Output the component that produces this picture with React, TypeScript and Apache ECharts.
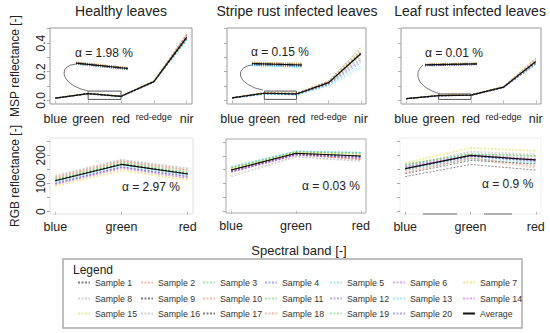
import React, { useEffect, useRef } from "react";
import * as echarts from "echarts";

const BANDS_MSP = ["blue", "green", "red", "red-edge", "nir"];
const BANDS_RGB = ["blue", "green", "red"];
const MSP_TICKS = [0, 0.1, 0.2, 0.3, 0.4, 0.5];
const MSP_LABELS = [0, 0.2, 0.4];
const RGB_TICKS = [0, 50, 100, 150, 200, 250];
const RGB_LABELS = [0, 100, 200];

const TITLES = ["Healthy leaves", "Stripe rust infected leaves", "Leaf rust infected leaves"];
const ALPHA_MSP = ["α = 1.98 %", "α = 0.15 %", "α = 0.01 %"];
const ALPHA_RGB = ["α = 2.97 %", "α = 0.03 %", "α = 0.9 %"];

// MSP reflectance: blue, green, red, red-edge, nir
const mspHealthy = [
  [0.016, 0.048, 0.029, 0.131, 0.435], [0.015, 0.046, 0.027, 0.128, 0.452],
  [0.017, 0.049, 0.030, 0.134, 0.441], [0.014, 0.045, 0.026, 0.127, 0.428],
  [0.016, 0.047, 0.028, 0.130, 0.419], [0.015, 0.050, 0.031, 0.136, 0.463],
  [0.018, 0.051, 0.032, 0.138, 0.470], [0.014, 0.044, 0.025, 0.125, 0.447],
  [0.016, 0.048, 0.029, 0.132, 0.432], [0.015, 0.049, 0.030, 0.133, 0.458],
  [0.017, 0.047, 0.028, 0.129, 0.425], [0.015, 0.046, 0.027, 0.127, 0.438],
  [0.016, 0.048, 0.029, 0.131, 0.421], [0.014, 0.050, 0.030, 0.135, 0.455],
  [0.017, 0.051, 0.031, 0.137, 0.466], [0.015, 0.045, 0.026, 0.126, 0.444],
  [0.016, 0.047, 0.028, 0.130, 0.430], [0.015, 0.049, 0.030, 0.134, 0.461],
  [0.016, 0.046, 0.027, 0.128, 0.417], [0.014, 0.048, 0.029, 0.132, 0.449],
];
const mspHealthyAvg = [0.0155, 0.0478, 0.0287, 0.1312, 0.4411];

const mspStripe = [
  [0.018, 0.050, 0.046, 0.126, 0.335], [0.017, 0.048, 0.043, 0.120, 0.300],
  [0.019, 0.053, 0.049, 0.132, 0.352], [0.016, 0.045, 0.040, 0.110, 0.262],
  [0.015, 0.043, 0.037, 0.102, 0.225], [0.018, 0.051, 0.047, 0.128, 0.318],
  [0.020, 0.055, 0.051, 0.138, 0.365], [0.019, 0.052, 0.048, 0.131, 0.372],
  [0.018, 0.050, 0.045, 0.125, 0.328], [0.019, 0.054, 0.050, 0.134, 0.345],
  [0.017, 0.049, 0.044, 0.122, 0.310], [0.016, 0.046, 0.041, 0.113, 0.275],
  [0.015, 0.044, 0.038, 0.106, 0.240], [0.018, 0.051, 0.046, 0.127, 0.322],
  [0.019, 0.053, 0.048, 0.130, 0.340], [0.020, 0.054, 0.050, 0.136, 0.360],
  [0.018, 0.050, 0.045, 0.124, 0.330], [0.019, 0.052, 0.047, 0.129, 0.338],
  [0.017, 0.048, 0.043, 0.119, 0.295], [0.016, 0.047, 0.042, 0.116, 0.285],
];
const mspStripeAvg = [0.018, 0.050, 0.045, 0.124, 0.325];

const mspLeaf = [
  [0.012, 0.033, 0.037, 0.092, 0.272], [0.011, 0.032, 0.036, 0.090, 0.285],
  [0.013, 0.035, 0.039, 0.095, 0.265], [0.012, 0.031, 0.035, 0.088, 0.255],
  [0.011, 0.034, 0.038, 0.093, 0.262], [0.013, 0.033, 0.037, 0.091, 0.280],
  [0.012, 0.036, 0.040, 0.097, 0.290], [0.011, 0.032, 0.036, 0.089, 0.275],
  [0.012, 0.034, 0.038, 0.093, 0.268], [0.013, 0.035, 0.039, 0.096, 0.298],
  [0.012, 0.033, 0.037, 0.092, 0.258], [0.011, 0.031, 0.035, 0.087, 0.250],
  [0.012, 0.034, 0.038, 0.094, 0.263], [0.013, 0.033, 0.037, 0.091, 0.283],
  [0.012, 0.035, 0.039, 0.095, 0.287], [0.011, 0.032, 0.036, 0.090, 0.270],
  [0.012, 0.034, 0.038, 0.093, 0.266], [0.013, 0.036, 0.040, 0.098, 0.295],
  [0.012, 0.033, 0.037, 0.092, 0.260], [0.011, 0.032, 0.036, 0.089, 0.253],
];
const mspLeafAvg = [0.012, 0.0334, 0.0374, 0.0922, 0.2717];

// RGB reflectance: blue, green, red
const rgbHealthy = [
  [112, 170, 136], [125, 182, 150], [118, 176, 142], [100, 158, 124], [106, 164, 130],
  [98, 156, 120], [92, 148, 114], [130, 186, 156], [110, 168, 134], [120, 180, 148],
  [114, 172, 138], [103, 160, 127], [108, 166, 132], [96, 153, 118], [90, 145, 110],
  [127, 184, 153], [111, 169, 135], [122, 178, 145], [116, 174, 140], [101, 159, 125],
];
const rgbHealthyAvg = [110, 168, 134];

const rgbStripe = [
  [150, 208, 198], [146, 205, 188], [158, 216, 212], [144, 206, 196], [160, 218, 214],
  [141, 203, 190], [155, 214, 205], [124, 196, 180], [149, 209, 200], [145, 208, 186],
  [157, 215, 210], [143, 204, 195], [162, 218, 213], [140, 202, 192], [153, 212, 206],
  [130, 198, 183], [148, 210, 199], [147, 207, 187], [156, 215, 209], [142, 205, 194],
];
const rgbStripeAvg = [149, 210, 200];

const rgbLeaf = [
  [150, 198, 182], [140, 190, 165], [168, 205, 200], [155, 196, 178], [148, 185, 172],
  [160, 200, 190], [175, 228, 218], [165, 215, 205], [135, 182, 170], [145, 193, 160],
  [170, 206, 198], [158, 198, 185], [152, 190, 175], [162, 202, 188], [172, 225, 215],
  [160, 212, 200], [125, 168, 148], [138, 188, 155], [166, 204, 195], [153, 197, 180],
];
const rgbLeafAvg = [153, 200, 184];

const PALETTE = [
  "rgba(20,20,20,0.55)", "rgba(230,110,70,0.45)", "rgba(70,190,70,0.45)", "rgba(70,70,220,0.45)",
  "rgba(40,200,225,0.45)", "rgba(190,60,200,0.45)", "rgba(225,215,40,0.5)", "rgba(150,150,150,0.45)",
];

const FONT = "'Liberation Sans', Arial, Helvetica, sans-serif";

export default function App() {
  const ref = useRef<HTMLDivElement>(null);
  useEffect(() => {
    if (!ref.current) return;
    const chart = echarts.init(ref.current, null, { renderer: "svg" });

    const panels = [
      { data: mspHealthy, avg: mspHealthyAvg, kind: "msp", grid: { left: 50, top: 28, width: 142, height: 76 }, border: "#999" },
      { data: mspStripe, avg: mspStripeAvg, kind: "msp", grid: { left: 227, top: 28, width: 139, height: 76 }, border: "#999" },
      { data: mspLeaf, avg: mspLeafAvg, kind: "msp", grid: { left: 401, top: 28, width: 140, height: 76 }, border: "#999" },
      { data: rgbHealthy, avg: rgbHealthyAvg, kind: "rgb", grid: { left: 50, top: 138, width: 143, height: 76 }, border: "#e2e2e2" },
      { data: rgbStripe, avg: rgbStripeAvg, kind: "rgb", grid: { left: 226, top: 139, width: 140, height: 74 }, border: "#aaa" },
      { data: rgbLeaf, avg: rgbLeafAvg, kind: "rgb", grid: { left: 400, top: 138, width: 141, height: 76 }, border: "#eee" },
    ];
    const insets = [
      { grid: { left: 76, top: 61, width: 52, height: 10 }, min: 0.02, max: 0.055 },
      { grid: { left: 252, top: 61, width: 50, height: 8 }, min: 0.03, max: 0.06 },
      { grid: { left: 425, top: 62, width: 52, height: 5 }, min: 0.026, max: 0.044 },
    ];

    const grids: any[] = [];
    const xAxes: any[] = [];
    const yAxes: any[] = [];
    const series: any[] = [];

    panels.forEach((p, pi) => {
      const msp = p.kind === "msp";
      grids.push({ ...p.grid, show: true, borderColor: p.border, borderWidth: 1, containLabel: false });
      xAxes.push({
        type: "value", gridIndex: pi,
        min: msp ? 0.84 : 0.92, max: msp ? 5.16 : 3.08,
        splitLine: { show: false }, axisLine: { show: false },
        axisTick: { show: true, length: 3, lineStyle: { color: "#bbb" }, customValues: msp ? [1, 2, 3, 4, 5] : [1, 2, 3] },
        axisLabel: {
          customValues: msp ? [1, 2, 3, 4, 5] : [1, 2, 3],
          margin: msp ? 8 : 6, fontSize: 12.5, color: "#222", fontFamily: FONT,
          formatter: (v: number) => {
            const names = msp ? BANDS_MSP : BANDS_RGB;
            const n = names[Math.round(v) - 1];
            return n === "red-edge" ? "{s|red-edge}" : n;
          },
          rich: { s: { fontSize: 9, color: "#222", fontFamily: FONT } },
        },
      });
      const showLabels = pi === 0 || pi === 3;
      yAxes.push({
        type: "value", gridIndex: pi,
        min: msp ? -0.025 : -8, max: msp ? 0.505 : 262,
        splitLine: { show: false }, axisLine: { show: false },
        axisTick: { show: true, length: 3, lineStyle: { color: "#aaa" }, customValues: msp ? MSP_TICKS : RGB_TICKS },
        axisLabel: {
          show: showLabels, customValues: msp ? MSP_LABELS : RGB_LABELS,
          rotate: 90, margin: 3, fontSize: 12, color: "#222", fontFamily: FONT,
          formatter: (v: number) => (msp ? v.toFixed(1) : String(v)),
        },
        name: pi === 0 ? "MSP reflectance [-]" : pi === 3 ? "RGB reflectance [-]" : "",
        nameLocation: "middle", nameRotate: 90, nameGap: 29,
        nameTextStyle: { fontSize: 12, color: "#222", fontFamily: FONT },
      });
      p.data.forEach((row, i) => {
        const c = PALETTE[i % 8];
        series.push({
          type: "line", name: `Sample ${i + 1}`, xAxisIndex: pi, yAxisIndex: pi,
          data: row.map((v, j) => [j + 1, v]), symbol: "none", silent: true,
          lineStyle: { color: c, width: 0.9, type: [2, 1.5] }, itemStyle: { color: c }, z: 2,
        });
      });
      const avgSeries: any = {
        type: "line", name: "Average", xAxisIndex: pi, yAxisIndex: pi,
        data: p.avg.map((v, j) => [j + 1, v]), symbol: "none", silent: true,
        lineStyle: { color: "#111", width: 1.2, type: "solid" }, itemStyle: { color: "#111" }, z: 3,
      };
      if (msp) {
        const top = pi === 2 ? 0.045 : 0.065;
        avgSeries.markArea = {
          silent: true,
          itemStyle: { color: "rgba(0,0,0,0)", borderColor: "#555", borderWidth: 1 },
          data: [[{ coord: [2, top] }, { coord: [3, 0.007] }]],
        };
      }
      series.push(avgSeries);
    });

    insets.forEach((ins, k) => {
      const gi = panels.length + k;
      const p = panels[k];
      grids.push({ ...ins.grid, show: false });
      xAxes.push({ type: "value", gridIndex: gi, min: 2, max: 3, show: false });
      yAxes.push({ type: "value", gridIndex: gi, min: ins.min, max: ins.max, show: false });
      p.data.forEach((row, i) => {
        const c = PALETTE[i % 8];
        series.push({
          type: "line", name: `Sample ${i + 1}`, xAxisIndex: gi, yAxisIndex: gi,
          data: [[2, row[1]], [3, row[2]]], symbol: "none", silent: true,
          lineStyle: { color: c, width: 1.6, type: [1, 1.2] }, z: 2,
        });
      });
      series.push({
        type: "line", name: "Average", xAxisIndex: gi, yAxisIndex: gi,
        data: [[2, p.avg[1]], [3, p.avg[2]]], symbol: "none", silent: true,
        lineStyle: { color: "#111", width: 1.2 }, z: 3,
      });
    });

    const names = [...Array.from({ length: 20 }, (_, i) => `Sample ${i + 1}`), "Average"];
    const colX = [95, 158, 220, 282, 347, 410, 480];
    const rowY = [284, 300, 315];
    const legends = names.map((n, k) => ({
      data: [n], left: colX[k % 7] - 18, top: rowY[Math.floor(k / 7)] - 6,
      itemWidth: 12, itemHeight: 10, padding: 0, selectedMode: false,
      itemStyle: { color: "rgba(0,0,0,0)", borderWidth: 0, opacity: 0 },
      textStyle: { fontSize: 8.8, color: "#333", fontFamily: FONT },
    }));

    const txt = (text: string, x: number, y: number, size: number, align = "center") => ({
      type: "text", x, y, silent: true,
      style: { text, fill: "#222", font: `${size}px ${FONT}`, textAlign: align, align, textVerticalAlign: "middle", verticalAlign: "middle" },
    });
    const curve = (pts: number[][]) => ({
      type: "polyline", silent: true, shape: { points: pts },
      style: { stroke: "#777", lineWidth: 1, fill: null },
    });

    const graphic: any[] = [
      txt(TITLES[0], 121, 11, 14), txt(TITLES[1], 297, 11, 14), txt(TITLES[2], 470, 11, 14),
      txt(ALPHA_MSP[0], 75, 53, 12, "left"), txt(ALPHA_MSP[1], 251, 52, 12, "left"), txt(ALPHA_MSP[2], 425, 53, 12, "left"),
      txt(ALPHA_RGB[0], 122, 187, 12, "left"), txt(ALPHA_RGB[1], 302, 186, 12, "left"), txt(ALPHA_RGB[2], 482, 184, 12, "left"),
      txt("Spectral band [-]", 299, 250, 13),
      txt("Legend", 73, 270, 12, "left"),
      curve([[76, 64], [71, 65], [67, 67], [64.5, 70], [64, 74], [65.5, 78], [69, 82.5], [75, 86.5], [81, 89], [88, 91]]),
      curve([[252, 65], [247, 66], [243, 68.5], [240.5, 72], [240.5, 76], [243, 80.5], [248, 84.5], [255, 88], [263, 90]]),
      curve([[423, 65], [420, 68], [418, 72], [418, 77], [420, 82], [425, 87], [432, 91], [440, 94]]),
      { type: "line", silent: true, shape: { x1: 423, y1: 214, x2: 457, y2: 214 }, style: { stroke: "#999", lineWidth: 1.5 } },
      { type: "line", silent: true, shape: { x1: 484, y1: 214, x2: 512, y2: 214 }, style: { stroke: "#999", lineWidth: 1.5 } },
      { type: "rect", silent: true, shape: { x: 63, y: 259, width: 459, height: 69 }, style: { fill: null, stroke: "#aaa", lineWidth: 1.5 } },
    ];

    chart.setOption({
      animation: false,
      backgroundColor: "#fff",
      textStyle: { fontFamily: FONT },
      grid: grids, xAxis: xAxes, yAxis: yAxes, series, legend: legends, graphic,
    });
    return () => chart.dispose();
  }, []);
  return <div ref={ref} style={{ width: 550, height: 333, position: "absolute", left: 0, top: 0 }} />;
}
